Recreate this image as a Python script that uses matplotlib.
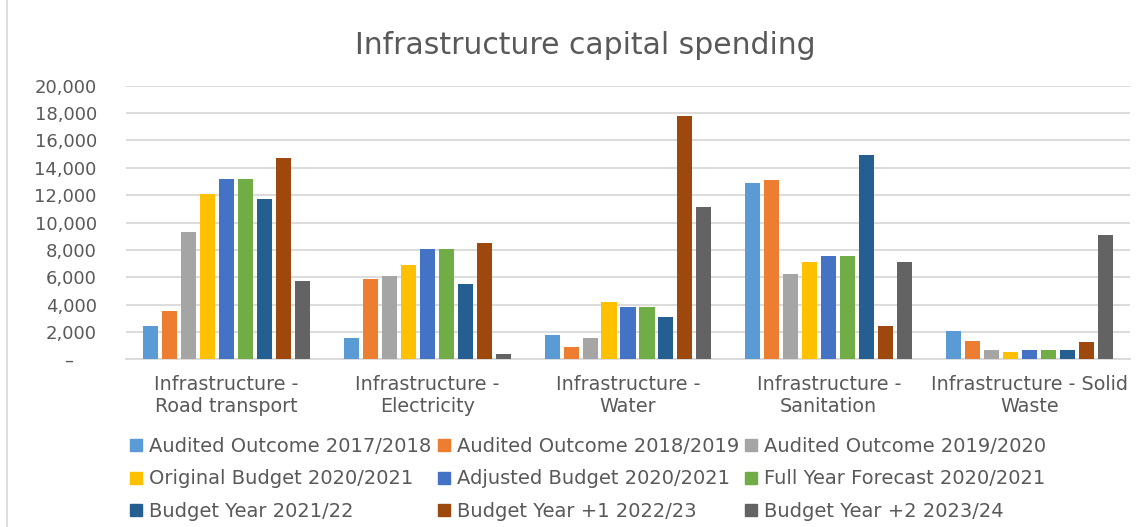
import matplotlib
matplotlib.use("Agg")
import matplotlib.pyplot as plt
import numpy as np
from matplotlib.ticker import FuncFormatter
from matplotlib.lines import Line2D

categories = ["Infrastructure -\nRoad transport", "Infrastructure -\nElectricity",
              "Infrastructure -\nWater", "Infrastructure -\nSanitation",
              "Infrastructure - Solid\nWaste"]
series_names = ["Audited Outcome 2017/2018", "Audited Outcome 2018/2019", "Audited Outcome 2019/2020",
                "Original Budget 2020/2021", "Adjusted Budget 2020/2021", "Full Year Forecast 2020/2021",
                "Budget Year 2021/22", "Budget Year +1 2022/23", "Budget Year +2 2023/24"]
audited_1718 = [2450, 1560, 1780, 12860, 2100]
audited_1819 = [3530, 5900, 900, 13100, 1340]
audited_1920 = [9280, 6110, 1560, 6240, 680]
original_2021 = [12100, 6900, 4170, 7110, 560]
adjusted_2021 = [13200, 8090, 3820, 7550, 680]
forecast_2021 = [13200, 8090, 3820, 7550, 680]
budget_2122 = [11700, 5480, 3070, 14930, 680]
budget_2223 = [14700, 8530, 17780, 2440, 1240]
budget_2324 = [5700, 370, 11130, 7110, 9090]
series = [audited_1718, audited_1819, audited_1920, original_2021, adjusted_2021,
          forecast_2021, budget_2122, budget_2223, budget_2324]
colors = ["#5B9BD5", "#ED7D31", "#A5A5A5", "#FFC000", "#4472C4",
          "#70AD47", "#255E91", "#9E480E", "#636363"]

fig = plt.figure(figsize=(11.41, 5.27), dpi=100)
ax = fig.add_axes([126 / 1141, 167.7 / 527, 1004 / 1141, 273.6 / 527])

x = np.arange(len(categories))
slot = 0.0945
bw = 0.075
for i, (vals, c) in enumerate(zip(series, colors)):
    ax.bar(x + (i - 4) * slot, vals, width=bw, color=c, label=series_names[i], zorder=3)

ax.set_xlim(-0.5, 4.5)
ax.set_ylim(0, 20000)
ax.set_yticks(np.arange(0, 20001, 2000))
ax.yaxis.set_major_formatter(FuncFormatter(lambda v, p: "–    " if v == 0 else f"{v:,.0f}"))
ax.grid(axis="y", color="#d9d9d9", lw=1.3, zorder=0)
for s in ["top", "right", "left"]:
    ax.spines[s].set_visible(False)
ax.spines["bottom"].set_color("#d9d9d9")
ax.spines["bottom"].set_linewidth(1.3)
ax.set_xticks(x)
ax.set_xticklabels(categories, fontsize=13.8, color="#595959", linespacing=1.2)
ax.tick_params(axis="x", length=0, pad=11)
ax.tick_params(axis="y", length=0, pad=21, labelsize=13, labelcolor="#595959")
for lbl in ax.get_yticklabels():
    lbl.set_horizontalalignment("right")

fig.text(585 / 1141, 1 - 45 / 527, "Infrastructure capital spending", ha="center", va="center",
         fontsize=21.5, color="#595959")

handles = [Line2D([], [], marker="s", ls="none", markersize=9, color=c) for c in colors]
order = [0, 3, 6, 1, 4, 7, 2, 5, 8]
fig.legend([handles[i] for i in order], [series_names[i] for i in order], ncol=3,
           loc="upper left", bbox_to_anchor=(121 / 1141, 1 - 429 / 527), frameon=False,
           fontsize=14, labelcolor="#595959", handlelength=0.75, handletextpad=0.3,
           columnspacing=0.25, labelspacing=0.7, borderaxespad=0)

fig.add_artist(Line2D([7 / 1141, 7 / 1141], [0, 1], color="#d9d9d9", lw=1.2))

fig.savefig("out.png", dpi=100)
plt.close()
